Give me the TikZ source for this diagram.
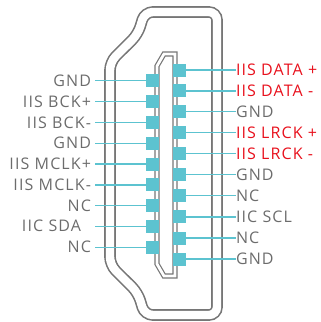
\documentclass[tikz,border=0pt]{standalone}
\usepackage{fontspec}
\setmainfont{Open Sans}[LetterSpace=7.0]
\usepackage{xcolor}
\definecolor{pincyan}{RGB}{92,195,208}
\definecolor{shellgray}{RGB}{118,118,118}
\definecolor{labgray}{RGB}{108,108,108}
\definecolor{labred}{RGB}{232,16,28}

\tikzset{
  shell/.style = {draw=shellgray, line width=1.6pt, double=white, double distance=8.4pt, rounded corners=8pt},
  tongue/.style = {draw=shellgray, line width=1.2pt, double=white, double distance=2.8pt, line join=miter},
  pad/.style = {fill=pincyan, minimum size=13pt, inner sep=0pt, outer sep=0pt},
  wire/.style = {draw=pincyan, line width=1.2pt},
  llab/.style = {anchor=east, text=labgray, font=\fontsize{16pt}{19pt}\selectfont, text height=11.2pt, text depth=0pt, inner xsep=4pt, inner ysep=0pt, outer sep=0pt},
  rlab/.style = {anchor=west, text=labgray, font=\fontsize{16pt}{19pt}\selectfont, text height=11.2pt, text depth=0pt, inner xsep=0pt, inner ysep=0pt, outer sep=0pt},
  redlab/.style = {rlab, text=labred}
}

\begin{document}
\begin{tikzpicture}[x=1pt, y=-1pt]
\useasboundingbox (0,0) rectangle (321,322);
% connector shell
\draw[shell] (180,12) -- (217,12) -- (217,315) -- (144.7,315) -- (137.9,292.8) -- (110,265) -- (110,62) -- (137.9,34.2) -- (144.7,12) -- cycle;
% tongue
\draw[tongue] (175,54) -- (175,276) -- (164,276) -- (157,264) -- (157,66) -- (164,54) -- cycle;

% left row
\node[pad] (l1) at (152.5,80.7) {};  \node[llab] (tl1) at (95,80.7) {GND};
\node[pad] (l2) at (152.5,101.6) {}; \node[llab] (tl2) at (95,101.6) {IIS BCK+};
\node[pad] (l3) at (152.5,122.4) {}; \node[llab] (tl3) at (95,122.4) {IIS BCK-};
\node[pad] (l4) at (152.5,143.3) {}; \node[llab] (tl4) at (95,143.3) {GND};
\node[pad] (l5) at (152.5,164) {};   \node[llab] (tl5) at (95,164) {IIS MCLK+};
\node[pad] (l6) at (152.5,184.9) {}; \node[llab] (tl6) at (95,184.9) {IIS MCLK-};
\node[pad] (l7) at (152.5,205.6) {}; \node[llab] (tl7) at (95,205.6) {NC};
\node[pad] (l8) at (152.5,226.3) {}; \node[llab, inner xsep=14pt] (tl8) at (95,226.3) {IIC SDA};
\node[pad] (l9) at (152.5,247.1) {}; \node[llab] (tl9) at (95,247.1) {NC};

% right row
\node[pad] (r1) at (179.5,70) {};     \node[redlab] (tr1) at (236,70) {IIS DATA +};
\node[pad] (r2) at (179.5,90.9) {};   \node[redlab] (tr2) at (236,90.9) {IIS DATA -};
\node[pad] (r3) at (179.5,111.8) {};  \node[rlab] (tr3) at (236,111.8) {GND};
\node[pad] (r4) at (179.5,132.7) {};  \node[redlab] (tr4) at (236,132.7) {IIS LRCK +};
\node[pad] (r5) at (179.5,153.6) {};  \node[redlab] (tr5) at (236,153.6) {IIS LRCK -};
\node[pad] (r6) at (179.5,174.7) {};  \node[rlab] (tr6) at (236,174.7) {GND};
\node[pad] (r7) at (179.5,195.8) {};  \node[rlab] (tr7) at (236,195.8) {NC};
\node[pad] (r8) at (179.5,216.9) {};  \node[rlab] (tr8) at (236,216.9) {IIC SCL};
\node[pad] (r9) at (179.5,238) {};    \node[rlab] (tr9) at (236,238) {NC};
\node[pad] (r10) at (179.5,259) {};   \node[rlab] (tr10) at (236,259) {GND};

% wires
\draw[wire] (l1) -- (tl1);  \draw[wire] (l2) -- (tl2);  \draw[wire] (l3) -- (tl3);
\draw[wire] (l4) -- (tl4);  \draw[wire] (l5) -- (tl5);  \draw[wire] (l6) -- (tl6);
\draw[wire] (l7) -- (tl7);  \draw[wire] (l8) -- (tl8);  \draw[wire] (l9) -- (tl9);
\draw[wire] (r1) -- (tr1);  \draw[wire] (r2) -- (tr2);  \draw[wire] (r3) -- (tr3);
\draw[wire] (r4) -- (tr4);  \draw[wire] (r5) -- (tr5);  \draw[wire] (r6) -- (tr6);
\draw[wire] (r7) -- (tr7);  \draw[wire] (r8) -- (tr8);  \draw[wire] (r9) -- (tr9);
\draw[wire] (r10) -- (tr10);
\end{tikzpicture}
\end{document}
